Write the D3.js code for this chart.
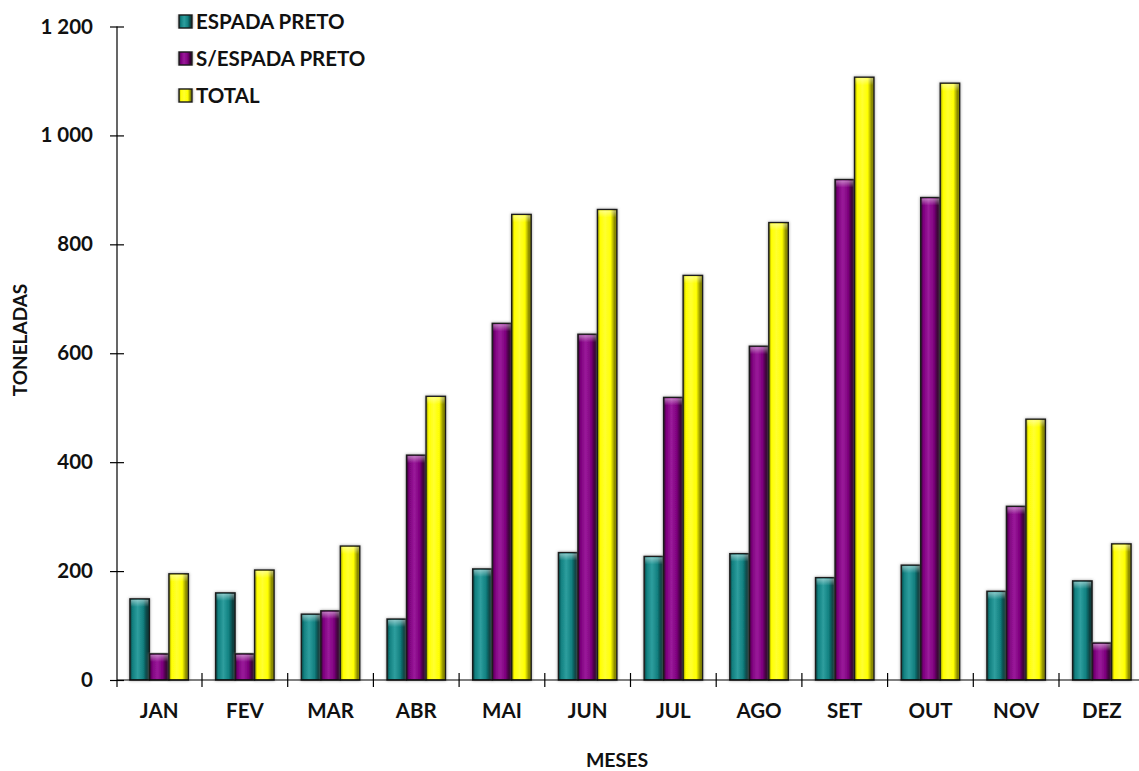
<!DOCTYPE html>
<html>
<head>
<meta charset="utf-8">
<script src="https://cdn.jsdelivr.net/npm/d3@7"></script>
<style>
  html, body { margin: 0; padding: 0; background: #fff; }
  svg { display: block; font-family: Lato, "Open Sans", "Liberation Sans", sans-serif; font-weight: 700; }
</style>
</head>
<body>
<svg id="chart" width="1139" height="771"></svg>
<script>
// Monthly landings (tonnes)
const months = ["JAN", "FEV", "MAR", "ABR", "MAI", "JUN", "JUL", "AGO", "SET", "OUT", "NOV", "DEZ"];
const seriesNames = ["ESPADA PRETO", "S/ESPADA PRETO", "TOTAL"];
const espadaPreto = [149, 160, 121, 112, 204, 234, 227, 232, 188, 211, 163, 182];
const semEspadaPreto = [48, 48, 127, 413, 655, 635, 519, 613, 919, 886, 319, 68];
const total = [195, 202, 246, 521, 855, 864, 743, 840, 1107, 1096, 479, 250];
const yTicks = [0, 200, 400, 600, 800, 1000, 1200];

const seriesValues = [espadaPreto, semEspadaPreto, total];

// base / light / dark tones of each series
const palette = [
  { base: "#128080", light: "#2e9e9e", dark: "#0a3f3f" },
  { base: "#7d007d", light: "#9a1a9a", dark: "#33002f" },
  { base: "#ffff00", light: "#ffff30", dark: "#8a8a00" }
];

const FONT = "Lato, 'Open Sans', sans-serif";
const svg = d3.select("#chart");
const defs = svg.append("defs");

// horizontal shading for a cylinder-like bevel
palette.forEach((p, i) => {
  const g = defs.append("linearGradient").attr("id", "grad" + i)
    .attr("x1", "0%").attr("x2", "100%").attr("y1", "0%").attr("y2", "0%");
  g.append("stop").attr("offset", "0%").attr("stop-color", p.dark);
  g.append("stop").attr("offset", "14%").attr("stop-color", p.base);
  g.append("stop").attr("offset", "40%").attr("stop-color", p.light);
  g.append("stop").attr("offset", "68%").attr("stop-color", p.base);
  g.append("stop").attr("offset", "88%").attr("stop-color", p.dark);
  g.append("stop").attr("offset", "100%").attr("stop-color", p.dark);
});
const topGrad = defs.append("linearGradient").attr("id", "topHi")
  .attr("x1", "0%").attr("x2", "0%").attr("y1", "0%").attr("y2", "100%");
topGrad.append("stop").attr("offset", "0%").attr("stop-color", "#fff").attr("stop-opacity", 0.45);
topGrad.append("stop").attr("offset", "100%").attr("stop-color", "#fff").attr("stop-opacity", 0);

const halo = defs.append("filter").attr("id", "halo")
  .attr("x", "-30%").attr("y", "-5%").attr("width", "160%").attr("height", "110%");
halo.append("feDropShadow").attr("dx", 0).attr("dy", 0).attr("stdDeviation", 1.4)
  .attr("flood-color", "#777").attr("flood-opacity", 0.7);

// scales
const x0 = d3.scaleBand().domain(months).range([116.3, 1144.7]).paddingInner(0).paddingOuter(0);
const groupWidth = 58.5;
const x1 = d3.scaleBand().domain(seriesNames)
  .range([(x0.bandwidth() - groupWidth) / 2, (x0.bandwidth() + groupWidth) / 2]);
const y = d3.scaleLinear().domain([0, 1200]).range([680, 26.5]);

const fmt = d3.formatLocale({ decimal: ",", thousands: " ", grouping: [3], currency: ["", ""] }).format(",d");

// bars
const groups = svg.append("g").selectAll("g")
  .data(months)
  .join("g")
  .attr("transform", d => `translate(${x0(d)},0)`);

groups.each(function (m, mi) {
  const g = d3.select(this);
  seriesNames.forEach((s, si) => {
    const v = seriesValues[si][mi];
    const bx = x1(s), bw = x1.bandwidth();
    const top = y(v), h = y(0) - y(v);
    g.append("rect")
      .attr("x", bx).attr("y", top).attr("width", bw).attr("height", h)
      .attr("fill", `url(#grad${si})`)
      .attr("stroke", "#1a1a1a").attr("stroke-width", 1.4)
      .attr("filter", "url(#halo)");
    g.append("rect")
      .attr("x", bx + 1).attr("y", top + 1).attr("width", bw - 2).attr("height", Math.min(7, h))
      .attr("fill", "url(#topHi)");
  });
});

// y axis
const yAxis = d3.axisLeft(y).tickValues(yTicks).tickFormat(fmt).tickSize(7).tickPadding(17);
const gy = svg.append("g").attr("transform", "translate(117,0)").call(yAxis);
gy.select(".domain").remove();
gy.append("line").attr("x1", 0).attr("x2", 0).attr("y1", y(1200)).attr("y2", y(0) + 7)
  .attr("stroke", "#000").attr("stroke-width", 1.2);
gy.selectAll(".tick line").attr("x1", 7).attr("x2", -7).attr("stroke", "#000").attr("stroke-width", 1.2);
gy.selectAll(".tick text").attr("font-size", 20.5).attr("font-weight", 700).attr("fill", "#111")
  .attr("font-family", FONT);

// x axis
const xAxis = d3.axisBottom(x0).tickSize(0).tickPadding(23);
const gx = svg.append("g").attr("transform", `translate(0,${y(0)})`).call(xAxis);
gx.select(".domain").remove();
gx.append("line").attr("x1", 117).attr("x2", 1139).attr("y1", 0).attr("y2", 0)
  .attr("stroke", "#000").attr("stroke-width", 1.2);
gx.selectAll(".tick text").attr("font-size", 20.5).attr("font-weight", 700).attr("fill", "#111")
  .attr("font-family", FONT);
// boundary ticks between months
gx.selectAll("line.sep")
  .data(months.slice(1))
  .join("line")
  .attr("class", "sep")
  .attr("x1", d => x0(d)).attr("x2", d => x0(d))
  .attr("y1", -7).attr("y2", 7)
  .attr("stroke", "#000").attr("stroke-width", 1.2);

// axis titles
svg.append("text")
  .attr("transform", `translate(27,${340}) rotate(-90)`)
  .attr("text-anchor", "middle")
  .attr("font-size", 19).attr("fill", "#111")
  .text("TONELADAS");
svg.append("text")
  .attr("x", 617).attr("y", 767)
  .attr("text-anchor", "middle")
  .attr("font-size", 19.5).attr("fill", "#111")
  .text("MESES");

// legend
const legend = svg.append("g").attr("transform", "translate(179,0)");
const rows = legend.selectAll("g").data(seriesNames).join("g")
  .attr("transform", (d, i) => `translate(0,${22 + i * 37})`);
rows.append("rect")
  .attr("x", 0).attr("y", -7).attr("width", 13).attr("height", 13)
  .attr("fill", (d, i) => `url(#grad${i})`)
  .attr("stroke", "#1a1a1a").attr("stroke-width", 1.4)
  .attr("filter", "url(#halo)");
rows.append("text")
  .attr("x", 17).attr("y", 0).attr("dy", "0.35em")
  .attr("font-size", 20.5).attr("fill", "#111")
  .text(d => d);
</script>
</body>
</html>
